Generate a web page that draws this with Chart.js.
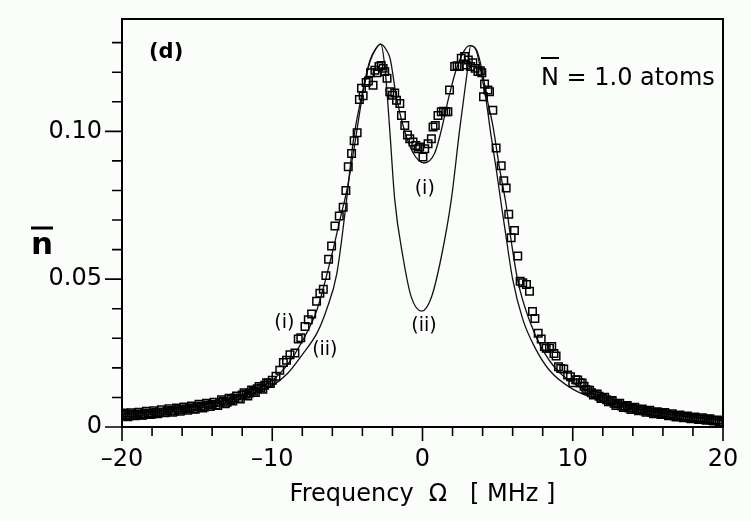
<!DOCTYPE html>
<html>
<head>
<meta charset="utf-8">
<script src="https://cdn.jsdelivr.net/npm/chart.js@4.4.1/dist/chart.umd.min.js"></script>
<style>
  html, body { margin: 0; padding: 0; background: #fbfdfb; }
  canvas { display: block; }
</style>
</head>
<body>
<canvas id="chart" width="751" height="521"></canvas>
<script>
// measured points (open squares)
const dataX = [
  -20, -19.75, -19.5, -19.25, -19, -18.75, -18.5, -18.25, -18, -17.75, -17.5, -17.25, -17, -16.75, -16.5, -16.25,
  -16, -15.75, -15.5, -15.25, -15, -14.75, -14.5, -14.25, -14, -13.75, -13.5, -13.25, -13, -12.75, -12.5, -12.25,
  -12, -11.75, -11.5, -11.25, -11, -10.75, -10.5, -10.25, -10,
  -9.75, -9.5, -9.26, -9.05, -8.82, -8.49, -8.27, -8.1, -7.82, -7.6, -7.38, -7.05, -6.83, -6.6, -6.43, -6.25,
  -6.05, -5.83, -5.54, -5.28, -5.1, -4.94, -4.72, -4.55, -4.35, -4.2, -4.06, -3.95, -3.75, -3.6, -3.46, -3.29,
  -3.17, -3.02, -2.9, -2.75, -2.62, -2.51, -2.36, -2.18, -2.0, -1.85, -1.73, -1.51, -1.4, -1.18, -1.0, -0.85,
  -0.63, -0.45, -0.3, -0.19, 0.03, 0.15, 0.37, 0.59, 0.7, 0.85, 1.03, 1.25, 1.4, 1.55, 1.69, 1.8, 2.14, 2.3,
  2.45, 2.58, 2.8, 2.91, 3.05, 3.2, 3.35, 3.5, 3.69, 3.85, 3.95, 4.06, 4.13, 4.35, 4.46, 4.68, 4.9, 5.24, 5.41,
  5.57, 5.74, 5.9, 6.12, 6.34, 6.5, 6.67, 6.92, 7.12, 7.32, 7.48, 7.7, 7.9, 8.11, 8.23, 8.45, 8.6, 8.75, 8.89,
  9.05, 9.2, 9.4, 9.66, 9.85, 10.0, 10.2, 10.33,
  10.5, 10.75, 11, 11.25, 11.5, 11.75, 12, 12.25, 12.5, 12.75, 13, 13.25, 13.5, 13.75, 14, 14.25, 14.5, 14.75,
  15, 15.25, 15.5, 15.75, 16, 16.25, 16.5, 16.75, 17, 17.25, 17.5, 17.75, 18, 18.25, 18.5, 18.75, 19, 19.25,
  19.5, 19.75, 20
];
const dataY = [
  0.0039, 0.0042, 0.0038, 0.0043, 0.0044, 0.0041, 0.0046, 0.0047, 0.0044, 0.0049, 0.0051, 0.0049, 0.0054, 0.0056, 0.0054, 0.0059,
  0.0058, 0.0062, 0.0065, 0.0062, 0.0068, 0.0071, 0.0068, 0.0074, 0.0077, 0.0075, 0.0083, 0.0087, 0.0084, 0.0093, 0.0098, 0.0096,
  0.0108, 0.0111, 0.0115, 0.0121, 0.0129, 0.0132, 0.0141, 0.0149, 0.0158,
  0.0172, 0.0192, 0.0218, 0.0226, 0.0244, 0.0250, 0.0298, 0.0302, 0.0340, 0.0363, 0.0382, 0.0425, 0.0452, 0.0466, 0.0512, 0.0567,
  0.0612, 0.0680, 0.0714, 0.0743, 0.0800, 0.0880, 0.0925, 0.0968, 0.0995, 0.1108, 0.1146, 0.1120, 0.1165, 0.1170, 0.1198, 0.1156,
  0.1207, 0.1198, 0.1219, 0.1223, 0.1213, 0.1202, 0.1180, 0.1134, 0.1122, 0.1130, 0.1105, 0.1094, 0.1054, 0.1020, 0.0988, 0.0975,
  0.0964, 0.0952, 0.0941, 0.0947, 0.0913, 0.0941, 0.0958, 0.0975, 0.1015, 0.1020, 0.1054, 0.1066, 0.1068, 0.1066, 0.1066, 0.1140, 0.1219, 0.1222,
  0.1219, 0.1247, 0.1253, 0.1224, 0.1241, 0.1219, 0.1232, 0.1213, 0.1202, 0.1205, 0.1198, 0.1117, 0.1160, 0.1140, 0.1134, 0.1071, 0.0944, 0.0884, 0.0833,
  0.0808, 0.0720, 0.0640, 0.0665, 0.0578, 0.0493, 0.0488, 0.0482, 0.0459, 0.0391, 0.0367, 0.0317, 0.0298, 0.0272, 0.0266, 0.0266, 0.0272, 0.0249, 0.0240,
  0.0204, 0.0198, 0.0196, 0.0176, 0.0170, 0.0150, 0.0160, 0.0159,
  0.0150, 0.0138, 0.0124, 0.0116, 0.0111, 0.0104, 0.0098, 0.0092, 0.0087, 0.0080, 0.0078, 0.0071, 0.0070, 0.0064, 0.0064, 0.0060, 0.0058, 0.0055,
  0.0054, 0.0050, 0.0049, 0.0046, 0.0046, 0.0042, 0.0041, 0.0038, 0.0038, 0.0035, 0.0034, 0.0031, 0.0032, 0.0029, 0.0028, 0.0026, 0.0026, 0.0023,
  0.0022, 0.0019, 0.0018
];

// extra measured points inside the dense wings
const wingX = [
  -19.875, -19.625, -19.375, -19.125, -18.875, -18.625, -18.375, -18.125, -17.875, -17.625, -17.375, -17.125,
  -16.875, -16.625, -16.375, -16.125, -15.875, -15.625, -15.375, -15.125, -14.875, -14.625, -14.375, -14.125,
  -13.875, -13.625, -13.375, -13.125, -12.875, -12.625, -12.375, -12.125, -11.875, -11.625, -11.375, -11.125,
  -10.875, -10.625, -10.375, -10.125,
  10.625, 10.875, 11.125, 11.375, 11.625, 11.875, 12.125, 12.375, 12.625, 12.875, 13.125, 13.375, 13.625,
  13.875, 14.125, 14.375, 14.625, 14.875, 15.125, 15.375, 15.625, 15.875, 16.125, 16.375, 16.625, 16.875,
  17.125, 17.375, 17.625, 17.875, 18.125, 18.375, 18.625, 18.875, 19.125, 19.375, 19.625, 19.875
];
const wingY = [
  0.0047, 0.0035, 0.0048, 0.0038, 0.0050, 0.0040, 0.0053, 0.0042, 0.0055, 0.0045, 0.0058, 0.0048,
  0.0062, 0.0050, 0.0064, 0.0053, 0.0068, 0.0057, 0.0071, 0.0060, 0.0077, 0.0064, 0.0080, 0.0069,
  0.0084, 0.0073, 0.0092, 0.0079, 0.0097, 0.0088, 0.0105, 0.0095, 0.0116, 0.0105, 0.0125, 0.0117,
  0.0137, 0.0128, 0.0150, 0.0147,
  0.0149, 0.0127, 0.0124, 0.0108, 0.0112, 0.0096, 0.0101, 0.0085, 0.0090, 0.0073, 0.0080, 0.0066, 0.0073,
  0.0059, 0.0067, 0.0055, 0.0061, 0.0050, 0.0057, 0.0045, 0.0052, 0.0042, 0.0049, 0.0038, 0.0045, 0.0034,
  0.0041, 0.0031, 0.0037, 0.0028, 0.0034, 0.0025, 0.0031, 0.0023, 0.0028, 0.0020, 0.0024, 0.0016
];

// theory curve (i)
const curve1X = [-20, -18, -16, -14, -12, -10, -9, -8, -7, -6, -5.5, -5, -4.5, -4, -3.5, -3.1, -2.78, -2.4, -2.15, -1.75,
  -1.2, -0.6, 0.1, 0.8, 1.25, 1.7, 2.25, 2.8, 3.15, 3.6, 3.95, 4.3, 4.68, 5.13, 5.57, 5.8, 6.34, 7.12, 7.9, 9.0,
  11, 13, 15, 17, 20];
const curve1Y = [0.0042, 0.0050, 0.0062, 0.0080, 0.0110, 0.0158, 0.0210, 0.0290, 0.0400, 0.0590, 0.0700, 0.0810, 0.0960, 0.1120, 0.1235, 0.1280, 0.1295, 0.1275, 0.1245, 0.1120,
  0.1003, 0.0925, 0.0893, 0.0925, 0.1003, 0.1105, 0.1210, 0.1275, 0.1290, 0.1275, 0.1210, 0.1110, 0.1020, 0.0875, 0.0750, 0.0665, 0.0495, 0.0360, 0.0270, 0.0190,
  0.0122, 0.0080, 0.0056, 0.0040, 0.0022];

// theory curve (ii)
const curve2X = [-20, -18, -16, -14, -12, -10, -9, -8, -7, -6.4, -5.7, -5.05, -4.6, -4.05, -3.5, -3.1, -2.78, -2.5, -2.18, -1.85,
  -1.3, -0.75, -0.05, 0.6, 1.25, 1.92, 2.47, 3.0, 3.2, 3.6, 3.9, 4.25, 4.55, 4.9, 5.25, 5.5, 6.0, 6.67, 7.45, 8.45,
  10, 12, 14, 16, 18, 20];
const curve2Y = [0.0040, 0.0050, 0.0062, 0.0080, 0.0105, 0.0140, 0.0180, 0.0245, 0.0320, 0.0395, 0.0520, 0.0770, 0.0970, 0.1120, 0.1240, 0.1280, 0.1295, 0.1215, 0.1005, 0.0770,
  0.0575, 0.0440, 0.0392, 0.0440, 0.0575, 0.0770, 0.1005, 0.1210, 0.1290, 0.1270, 0.1200, 0.1100, 0.0990, 0.0875, 0.0750, 0.0665, 0.0500, 0.0365, 0.0272, 0.0192,
  0.0128, 0.0088, 0.0062, 0.0045, 0.0033, 0.0022];

const xTickLabels = [-20, -10, 0, 10, 20];
const yTickLabels = [0, 0.05, 0.10];

const FONT = "'DejaVu Sans', sans-serif";

const points = dataX.map((x, i) => ({ x: x, y: dataY[i] }))
  .concat(wingX.map((x, i) => ({ x: x, y: wingY[i] })));
const curve1 = curve1X.map((x, i) => ({ x: x, y: curve1Y[i] }));
const curve2 = curve2X.map((x, i) => ({ x: x, y: curve2Y[i] }));

function overText(ctx, text, x, y, font, barY, barFrom, barTo, barW) {
  ctx.font = font;
  ctx.fillText(text, x, y);
  ctx.lineWidth = barW;
  ctx.beginPath();
  ctx.moveTo(barFrom, barY);
  ctx.lineTo(barTo, barY);
  ctx.stroke();
}

// frame, ticks and the labels inside the plot
const frame = {
  id: 'frame',
  afterDraw(chart) {
    const { ctx, chartArea: a, scales: { x, y } } = chart;
    ctx.save();
    ctx.strokeStyle = '#000';
    ctx.fillStyle = '#000';
    ctx.lineWidth = 2;
    ctx.beginPath();
    ctx.moveTo(a.left, a.top);
    ctx.lineTo(a.right, a.top);
    ctx.lineTo(a.right, a.bottom);
    ctx.stroke();

    ctx.lineWidth = 1.6;
    ctx.beginPath();
    for (let v = -20; v <= 20; v += 2) {
      const px = x.getPixelForValue(v);
      const len = v % 10 === 0 ? 14 : 9;
      ctx.moveTo(px, a.bottom);
      ctx.lineTo(px, a.bottom + len);
    }
    for (let i = 0; i <= 13; i++) {
      const py = y.getPixelForValue(i / 100);
      const len = i % 5 === 0 ? 17 : 10;
      ctx.moveTo(a.left, py);
      ctx.lineTo(a.left - len, py);
    }
    ctx.stroke();

    // panel label
    ctx.textBaseline = 'alphabetic';
    ctx.textAlign = 'left';
    ctx.font = 'bold 21px ' + FONT;
    ctx.fillText('(d)', 149, 58);

    // mean atom number
    const nx = 541;
    overText(ctx, 'N = 1.0 atoms', nx, 85, '24px ' + FONT, 58, nx, nx + 18, 2);

    // y title
    overText(ctx, 'n', 31, 254, 'bold 31px ' + FONT, 228, 31, 53, 3);

    // curve labels
    ctx.font = '19px ' + FONT;
    ctx.textAlign = 'center';
    ctx.textBaseline = 'middle';
    ctx.fillText('(i)', x.getPixelForValue(0.15), y.getPixelForValue(0.0805));
    ctx.fillText('(ii)', x.getPixelForValue(0.1), y.getPixelForValue(0.034));
    ctx.fillText('(i)', x.getPixelForValue(-9.2), y.getPixelForValue(0.035));
    ctx.fillText('(ii)', x.getPixelForValue(-6.5), y.getPixelForValue(0.026));
    ctx.restore();
  }
};

new Chart(document.getElementById('chart'), {
  type: 'scatter',
  data: {
    datasets: [
      {
        label: 'data',
        data: points,
        showLine: false,
        pointStyle: 'rect',
        pointRadius: 5.3,
        pointBorderWidth: 1.5,
        pointBorderColor: '#000',
        pointBackgroundColor: 'rgba(0,0,0,0)',
        order: 0
      },
      {
        label: '(i)',
        data: curve1,
        showLine: true,
        pointRadius: 0,
        borderColor: '#111',
        borderWidth: 1.3,
        cubicInterpolationMode: 'monotone',
        order: 1
      },
      {
        label: '(ii)',
        data: curve2,
        showLine: true,
        pointRadius: 0,
        borderColor: '#111',
        borderWidth: 1.3,
        cubicInterpolationMode: 'monotone',
        order: 2
      }
    ]
  },
  options: {
    responsive: false,
    animation: false,
    layout: { padding: { top: 19, right: 28, left: 0, bottom: 0 } },
    plugins: { legend: { display: false }, tooltip: { enabled: false } },
    scales: {
      x: {
        type: 'linear',
        min: -20,
        max: 20,
        afterBuildTicks: s => { s.ticks = xTickLabels.map(v => ({ value: v })); },
        afterFit: s => { s.height = 94; s.paddingLeft = 0; s.paddingRight = 0; },
        grid: { display: false, drawTicks: false },
        border: { display: true, color: '#000', width: 2 },
        ticks: {
          padding: 18,
          color: '#000',
          font: { family: FONT, size: 24 },
          callback: v => (v < 0 ? '\u2013' + Math.abs(v) : String(v))
        },
        title: {
          display: true,
          text: 'Frequency  \u03a9   [ MHz ]',
          color: '#000',
          font: { family: FONT, size: 24 },
          padding: { bottom: 12 }
        }
      },
      y: {
        type: 'linear',
        min: 0,
        max: 0.138,
        afterBuildTicks: s => { s.ticks = yTickLabels.map(v => ({ value: v })); },
        afterFit: s => { s.width = 122; s.paddingTop = 0; s.paddingBottom = 0; },
        grid: { display: false, drawTicks: false },
        border: { display: true, color: '#000', width: 2 },
        ticks: {
          padding: 20,
          color: '#000',
          font: { family: FONT, size: 24 },
          callback: v => (v === 0 ? '0' : v.toFixed(2))
        }
      }
    }
  },
  plugins: [frame]
});
</script>
</body>
</html>
